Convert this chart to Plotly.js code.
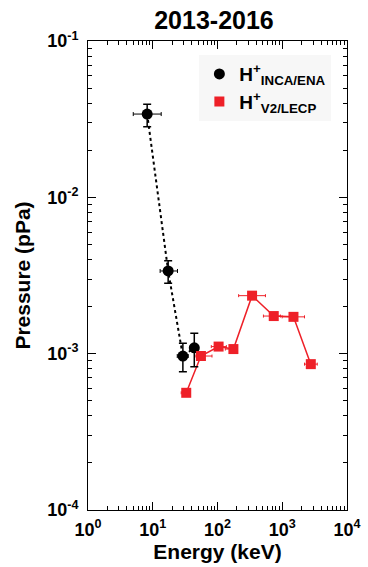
<!DOCTYPE html>
<html><head><meta charset="utf-8">
<script src="https://cdn.plot.ly/plotly-3.0.1.min.js"></script>
<style>body{margin:0;background:#fff}#c{width:368px;height:567px}</style>
</head><body><div id="c"></div>
<script>
// INCA/ENA H+ (black)
const incaE     = [8.2, 17.3, 29.2, 43.8];
const incaELow  = [5.0, 13.0, 23.9, 37.9];
const incaEHigh = [13.5, 24.1, 35.3, 51.0];
const incaP     = [0.0341, 0.00338, 0.000966, 0.00109];
const incaPLow  = [0.0283, 0.00282, 0.000766, 0.000824];
const incaPHigh = [0.0394, 0.00393, 0.001164, 0.001349];
// V2/LECP H+ (red)
const lecpE     = [32.9, 55.5, 104, 176, 342, 739, 1490, 2760];
const lecpELow  = [27.5, 46.4, 80.2, 132, 212, 512, 996, 2206];
const lecpEHigh = [37.9, 82.2, 137, 203, 550, 938, 2206, 3470];
const lecpP     = [0.000562, 0.000966, 0.00111, 0.00107, 0.00235, 0.00174, 0.00172, 0.000857];
const xTickVals = [1, 10, 100, 1000, 10000];
const xTickText = ['10<sup>0</sup>','10<sup>1</sup>','10<sup>2</sup>','10<sup>3</sup>','10<sup>4</sup>'];
const yTickVals = [1e-4, 1e-3, 1e-2, 1e-1];
const yTickText = ['10<sup>-4</sup>','10<sup>-3</sup>','10<sup>-2</sup>','10<sup>-1</sup>'];

const sub = (a, b) => a.map((v, i) => v - b[i]);
function minorVals(decades) {
  const out = [];
  decades.forEach(d => { for (let k = 2; k <= 9; k++) out.push(k * d); });
  return out;
}

const RED = '#ee2028';
const FAM = 'Liberation Sans, Arial, Helvetica, sans-serif';

const traces = [
  { x: incaE, y: incaP, type: 'scatter', mode: 'lines', showlegend: false, hoverinfo: 'skip',
    line: {color: '#000', width: 2, dash: 'dot'} },
  { x: lecpE, y: lecpP, type: 'scatter', mode: 'lines', showlegend: false, hoverinfo: 'skip',
    line: {color: RED, width: 1.5} },
  {
    x: incaE, y: incaP, type: 'scatter', mode: 'markers',
    name: 'H<sup>+</sup><sub>INCA/ENA</sub>',
    marker: {symbol: 'circle', size: 11, color: '#000'},
    error_x: {type: 'data', symmetric: false, array: sub(incaEHigh, incaE), arrayminus: sub(incaE, incaELow), color: '#000', thickness: 1, width: 2},
    error_y: {type: 'data', symmetric: false, array: sub(incaPHigh, incaP), arrayminus: sub(incaP, incaPLow), color: '#000', thickness: 1.5, width: 4}
  },
  {
    x: lecpE, y: lecpP, type: 'scatter', mode: 'markers',
    name: 'H<sup>+</sup><sub>V2/LECP</sub>',
    marker: {symbol: 'square', size: 10, color: RED},
    error_x: {type: 'data', symmetric: false, array: sub(lecpEHigh, lecpE), arrayminus: sub(lecpE, lecpELow), color: RED, thickness: 1, width: 1.5}
  }
];

const axisCommon = {
  type: 'log', showline: true, linecolor: '#000', linewidth: 1, mirror: 'allticks',
  ticks: 'inside', ticklen: 8, tickcolor: '#000', tickwidth: 1,
  showgrid: false, zeroline: false,
  tickfont: {family: FAM, size: 18, color: '#000', weight: 'bold'}
};

const layout = {
  width: 368, height: 567,
  margin: {l: 88, r: 21, t: 41, b: 57},
  paper_bgcolor: '#fff', plot_bgcolor: '#fff',
  font: {family: FAM, color: '#000', size: 18, weight: 'bold'},
  showlegend: true,
  title: {text: '2013-2016', xref: 'paper', x: (214 - 88) / 259, xanchor: 'center',
          yref: 'container', y: 1 - 20 / 567, yanchor: 'middle',
          font: {family: FAM, size: 25, color: '#000', weight: 'bold'}},
  xaxis: Object.assign({}, axisCommon, {
    range: [0, 4], tickmode: 'array', tickvals: xTickVals, ticktext: xTickText,
    ticklabelstandoff: 3,
    minor: {tickmode: 'array', tickvals: minorVals([1, 10, 100, 1000]), ticks: 'inside', ticklen: 4, tickcolor: '#000', tickwidth: 1, showgrid: false},
    title: {text: 'Energy (keV)', standoff: 3, font: {family: FAM, size: 21, color: '#000', weight: 'bold'}}
  }),
  yaxis: Object.assign({}, axisCommon, {
    range: [-4, -1], tickmode: 'array', tickvals: yTickVals, ticktext: yTickText,
    ticklabelstandoff: 5,
    minor: {tickmode: 'array', tickvals: minorVals([1e-4, 1e-3, 1e-2]), ticks: 'inside', ticklen: 4, tickcolor: '#000', tickwidth: 1, showgrid: false},
    title: {text: 'Pressure (pPa)', standoff: 10, font: {family: FAM, size: 21, color: '#000', weight: 'bold'}}
  }),
  legend: {
    x: 0.43, y: 0.97, xanchor: 'left', yanchor: 'top',
    bgcolor: '#f7f7f7', borderwidth: 0,
    font: {family: FAM, size: 19, color: '#000', weight: 'bold'},
    itemwidth: 30, tracegroupgap: 0
  }
};

Plotly.newPlot('c', traces, layout, {displayModeBar: false, staticPlot: true});
</script>
</body></html>
